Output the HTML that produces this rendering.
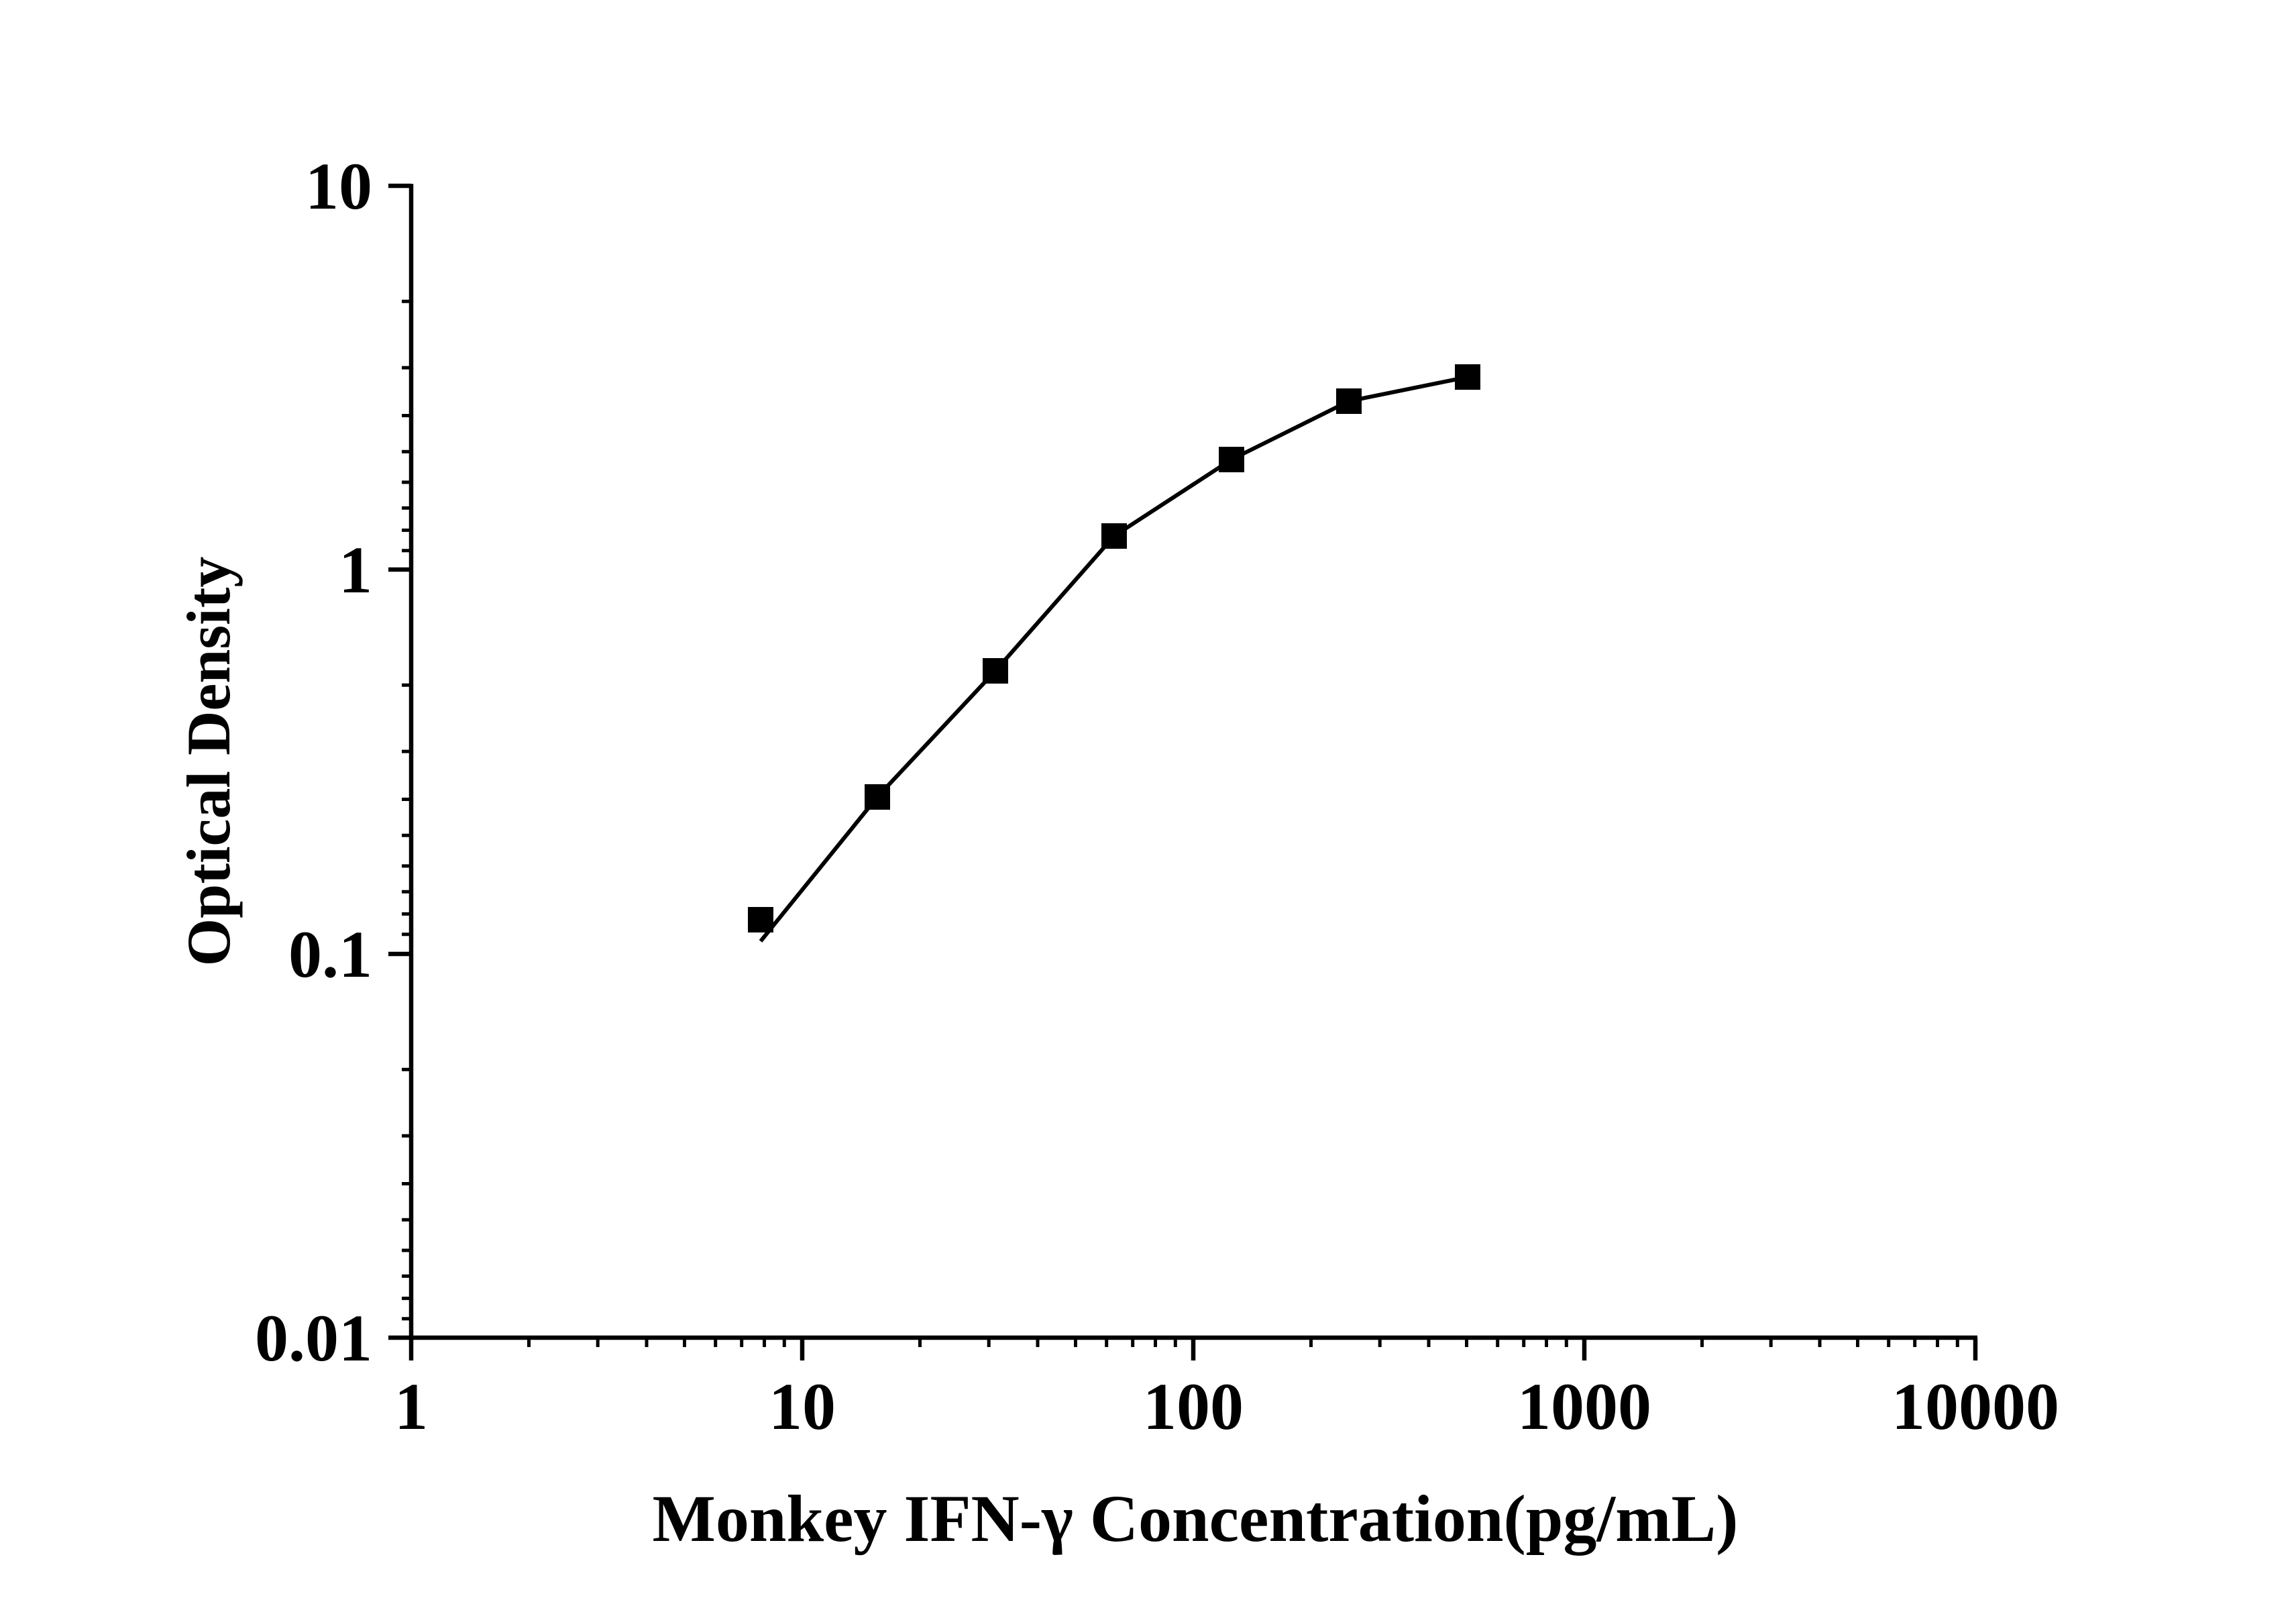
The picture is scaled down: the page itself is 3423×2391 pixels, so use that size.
<!DOCTYPE html>
<html><head><meta charset="utf-8"><style>
html,body{margin:0;padding:0;background:#fff;}
svg{display:block;}
text{font-family:"Liberation Serif",serif;font-weight:bold;fill:#000;}
</style></head><body>
<svg width="3423" height="2391" viewBox="0 0 3423 2391" xmlns="http://www.w3.org/2000/svg">
<g stroke="#000" stroke-width="6.5" fill="none">
<line x1="613" y1="274" x2="613" y2="1997"/>
<line x1="610" y1="1994" x2="2948" y2="1994"/>
<line x1="579" y1="277" x2="613" y2="277"/>
<line x1="579" y1="849" x2="613" y2="849"/>
<line x1="579" y1="1422" x2="613" y2="1422"/>
<line x1="579" y1="1994" x2="613" y2="1994"/>
<line x1="613" y1="1994" x2="613" y2="2028"/>
<line x1="1196" y1="1994" x2="1196" y2="2028"/>
<line x1="1779" y1="1994" x2="1779" y2="2028"/>
<line x1="2362" y1="1994" x2="2362" y2="2028"/>
<line x1="2945" y1="1994" x2="2945" y2="2028"/>
</g>
<g stroke="#000" stroke-width="5">
<path d="
M599 449.3H613 M599 548.1H613 M599 619.5H613 M599 673.2H613 M599 718.9H613 M599 757.2H613 M599 790.4H613 M599 820.7H613
M599 1021.3H613 M599 1120.1H613 M599 1191.5H613 M599 1245.2H613 M599 1290.9H613 M599 1329.2H613 M599 1362.4H613 M599 1392.7H613
M599 1594.3H613 M599 1693.1H613 M599 1764.5H613 M599 1818.2H613 M599 1863.9H613 M599 1902.2H613 M599 1935.4H613 M599 1965.7H613
"/>
<path d="
M788.5 1994V2008 M891.2 1994V2008 M964 1994V2008 M1020.5 1994V2008 M1066.7 1994V2008 M1105.7 1994V2008 M1139.5 1994V2008 M1169.3 1994V2008
M1371.5 1994V2008 M1474.2 1994V2008 M1547 1994V2008 M1603.5 1994V2008 M1649.7 1994V2008 M1688.7 1994V2008 M1722.5 1994V2008 M1752.3 1994V2008
M1954.5 1994V2008 M2057.2 1994V2008 M2130 1994V2008 M2186.5 1994V2008 M2232.7 1994V2008 M2271.7 1994V2008 M2305.5 1994V2008 M2335.3 1994V2008
M2537.5 1994V2008 M2640.2 1994V2008 M2713 1994V2008 M2769.5 1994V2008 M2815.7 1994V2008 M2854.7 1994V2008 M2888.5 1994V2008 M2918.3 1994V2008
"/>
</g>
<polyline fill="none" stroke="#000" stroke-width="6" points="1134,1403 1308,1188 1484,1000 1661,799 1836,685 2011,598 2188,562"/>
<g fill="#000">
<rect x="1115" y="1352" width="38" height="38"/>
<rect x="1289" y="1169" width="38" height="38"/>
<rect x="1465" y="981" width="38" height="38"/>
<rect x="1642" y="780" width="38" height="38"/>
<rect x="1817" y="666" width="38" height="38"/>
<rect x="1992" y="579" width="38" height="38"/>
<rect x="2169" y="543" width="38" height="38"/>
</g>
<g font-size="100" text-anchor="end">
<text x="555" y="311">10</text>
<text x="555" y="883">1</text>
<text x="555" y="1456">0.1</text>
<text x="555" y="2028">0.01</text>
</g>
<g font-size="100" text-anchor="middle">
<text x="613" y="2130">1</text>
<text x="1196" y="2130">10</text>
<text x="1779" y="2130">100</text>
<text x="2362" y="2130">1000</text>
<text x="2945" y="2130">10000</text>
</g>
<text x="1782" y="2297" font-size="100" text-anchor="middle">Monkey IFN-γ Concentration(pg/mL)</text>
<text transform="translate(342,1135) rotate(-90)" font-size="92" text-anchor="middle">Optical Density</text>
</svg>
</body></html>
